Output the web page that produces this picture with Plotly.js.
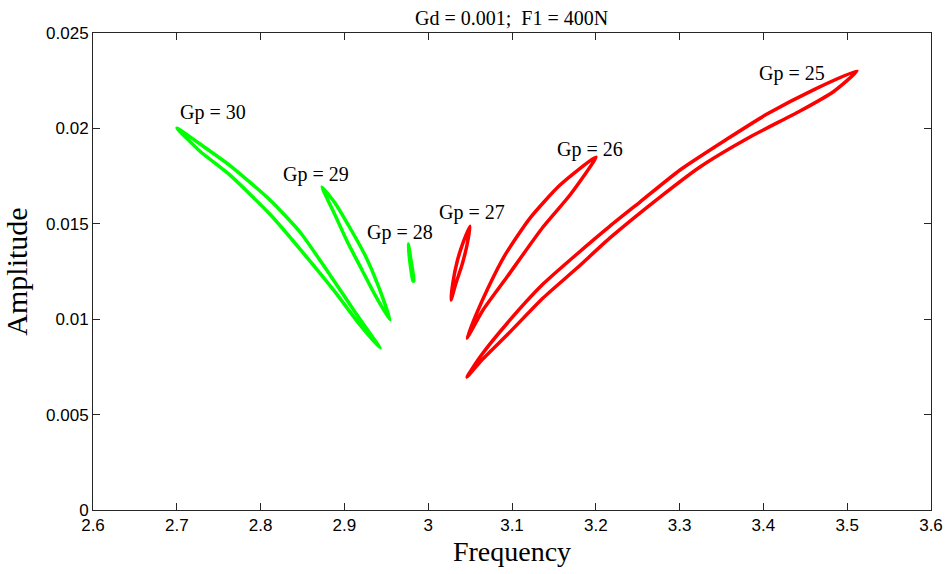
<!DOCTYPE html>
<html>
<head>
<meta charset="utf-8">
<script src="https://cdn.plot.ly/plotly-3.0.1.min.js"></script>
<style>html,body{margin:0;padding:0;background:#fff;}#chart{width:951px;height:574px;}</style>
</head>
<body>
<div id="chart"></div>
<script>
// Gp = 30 loop (green)
const gp30X = [2.7002, 2.7277, 2.7635, 2.8112, 2.8470, 2.8828, 2.9126, 2.9425, 2.9186, 2.8888, 2.8530, 2.8112, 2.7635, 2.7277, 2.7002];
const gp30Y = [0.02002, 0.01918, 0.01805, 0.01625, 0.01457, 0.01232, 0.01038, 0.00849, 0.00970, 0.01143, 0.01336, 0.01550, 0.01755, 0.01880, 0.02002];
// Gp = 29 loop (green)
const gp29X = [2.8733, 2.8888, 2.9067, 2.9246, 2.9401, 2.9544, 2.9365, 2.9210, 2.9043, 2.8888, 2.8733];
const gp29Y = [0.01693, 0.01609, 0.01478, 0.01336, 0.01179, 0.00996, 0.01127, 0.01258, 0.01399, 0.01546, 0.01693];
// Gp = 28 loop (green)
const gp28X = [2.9762, 2.9798, 2.9829, 2.9818, 2.9782, 2.9762];
const gp28Y = [0.01394, 0.01300, 0.01200, 0.01200, 0.01300, 0.01394];
// Gp = 27 loop (red)
const gp27X = [3.0499, 3.0463, 3.0403, 3.0332, 3.0272, 3.0296, 3.0344, 3.0415, 3.0499];
const gp27Y = [0.01488, 0.01389, 0.01284, 0.01190, 0.01101, 0.01195, 0.01300, 0.01400, 0.01488];
// Gp = 26 loop (red)
const gp26X = [3.2002, 3.1573, 3.1215, 3.0916, 3.0714, 3.0570, 3.0463, 3.0654, 3.0940, 3.1370, 3.1692, 3.2002];
const gp26Y = [0.01850, 0.01703, 0.01530, 0.01336, 0.01164, 0.01022, 0.00901, 0.01048, 0.01221, 0.01483, 0.01651, 0.01850];
// Gp = 25 loop (red)
const gp25X = [3.0463, 3.0618, 3.0976, 3.1370, 3.1776, 3.2169, 3.2527, 3.3005, 3.3566, 3.4043, 3.4592, 3.5117,
               3.4831, 3.4437, 3.3840, 3.3243, 3.2766, 3.2169, 3.1776, 3.1370, 3.0976, 3.0618, 3.0463];
const gp25Y = [0.00697, 0.00802, 0.00996, 0.01184, 0.01342, 0.01488, 0.01614, 0.01782, 0.01944, 0.02075, 0.02201, 0.02301,
               0.02191, 0.02091, 0.01955, 0.01798, 0.01640, 0.01426, 0.01268, 0.01111, 0.00933, 0.00776, 0.00697];

const labelText = ["Gp = 30", "Gp = 29", "Gp = 28", "Gp = 27", "Gp = 26", "Gp = 25"];
const labelX = [2.743, 2.866, 2.966, 3.052, 3.193, 3.434];
const labelY = [0.02081, 0.01761, 0.01457, 0.01557, 0.01887, 0.0229];

const xTickVals = [2.6, 2.7, 2.8, 2.9, 3.0, 3.1, 3.2, 3.3, 3.4, 3.5, 3.6];
const xTickText = ["2.6", "2.7", "2.8", "2.9", "3", "3.1", "3.2", "3.3", "3.4", "3.5", "3.6"];
const yTickVals = [0, 0.005, 0.01, 0.015, 0.02, 0.025];
const yTickText = ["0", "0.005", "0.01", "0.015", "0.02", "0.025"];

const GREEN = "#00ff00", RED = "#ff0000";
const series = [
  [gp30X, gp30Y, GREEN], [gp29X, gp29Y, GREEN], [gp28X, gp28Y, GREEN],
  [gp27X, gp27Y, RED], [gp26X, gp26Y, RED], [gp25X, gp25Y, RED]
];
const traces = series.map(s => ({
  x: s[0], y: s[1], type: "scatter", mode: "lines",
  line: {color: s[2], width: 3.5, shape: "spline", smoothing: 0.6},
  hoverinfo: "skip", showlegend: false
}));

const serif = "Liberation Serif, Times New Roman, serif";
const sans = "Liberation Sans, Arial, sans-serif";
const annotations = labelText.map((t, i) => ({
  x: labelX[i], y: labelY[i], xref: "x", yref: "y", text: t, showarrow: false,
  font: {family: serif, size: 20, color: "#000"}
}));

const axisCommon = {
  showline: true, linecolor: "#262626", linewidth: 1, mirror: "allticks",
  ticks: "inside", ticklen: 7, tickcolor: "#262626", showgrid: false, zeroline: false,
  tickfont: {family: sans, size: 17, color: "#000"}, fixedrange: true
};

const layout = {
  width: 951, height: 574,
  margin: {l: 93, r: 20, t: 33, b: 64},
  paper_bgcolor: "#fff", plot_bgcolor: "#fff",
  title: {text: "Gd = 0.001;\u00a0 F1 = 400N", font: {family: serif, size: 20, color: "#000"},
          x: 0.538, xanchor: "center", y: 0.968, yanchor: "middle"},
  xaxis: Object.assign({}, axisCommon, {
    range: [2.6, 3.6], tickmode: "array", tickvals: xTickVals, ticktext: xTickText,
    title: {text: "Frequency", font: {family: serif, size: 28, color: "#000"}, standoff: 6}
  }),
  yaxis: Object.assign({}, axisCommon, {
    range: [0, 0.025], tickmode: "array", tickvals: yTickVals, ticktext: yTickText,
    title: {text: "Amplitude", font: {family: serif, size: 30, color: "#000"}, standoff: 10}
  }),
  annotations: annotations
};

Plotly.newPlot("chart", traces, layout, {displayModeBar: false, staticPlot: true});
</script>
</body>
</html>
